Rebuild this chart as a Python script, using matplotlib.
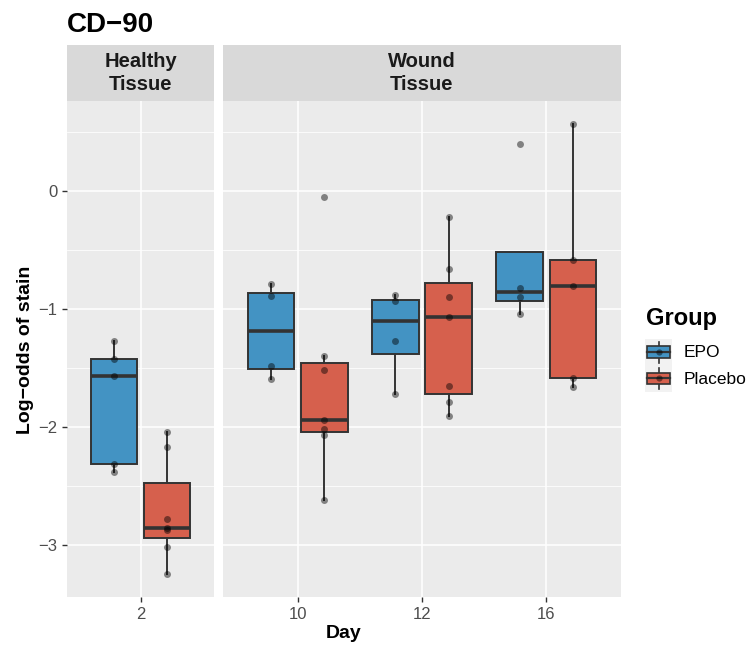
import numpy as np
import matplotlib.pyplot as plt
from matplotlib.patches import Rectangle

plt.rcParams['font.family'] = ['Liberation Sans', 'DejaVu Sans']

# data (log-odds of stain per animal)
groups = ["EPO", "Placebo"]
healthy_days = ["2"]
wound_days = ["10", "12", "16"]

epo_d2 = [-1.268, -1.424, -1.572, -2.312, -2.380]
plc_d2 = [-2.048, -2.170, -2.786, -2.862, -2.879, -3.018, -3.254]
epo_d10 = [-0.786, -0.891, -1.487, -1.591]
plc_d10 = [-0.045, -1.396, -1.518, -1.946, -2.020, -2.068, -2.621]
epo_d12 = [-0.880, -0.933, -1.274, -1.719]
plc_d12 = [-0.218, -0.661, -0.894, -1.067, -1.651, -1.787, -1.904]
epo_d16 = [0.400, -0.817, -0.896, -1.041]
plc_d16 = [0.576, -0.587, -0.800, -1.583, -1.662]

BLUE = '#4393C3'
RED = '#D6604D'
EDGE = '#333333'
OFF = 0.215
BOXW = 0.375

W, H = 751, 646
fig = plt.figure(figsize=(W / 100, H / 100), dpi=100)


def px_axes(x0, y0, x1, y1):
    return fig.add_axes([x0 / W, 1 - y1 / H, (x1 - x0) / W, (y1 - y0) / H])


all_vals = np.concatenate([epo_d2, plc_d2, epo_d10, plc_d10,
                           epo_d12, plc_d12, epo_d16, plc_d16])
lo, hi = all_vals.min(), all_vals.max()
pad = 0.05 * (hi - lo)


def draw_panel(ax, days, epo, plc):
    ax.set_facecolor('#EBEBEB')
    for i, (e, p) in enumerate(zip(epo, plc)):
        for vals, off, col in ((e, -OFF, BLUE), (p, OFF, RED)):
            pos = i + 1 + off
            ax.boxplot([vals], positions=[pos], widths=BOXW, patch_artist=True,
                       showfliers=False, manage_ticks=False,
                       boxprops=dict(facecolor=col, edgecolor=EDGE, linewidth=1.4),
                       whiskerprops=dict(color=EDGE, linewidth=1.4),
                       capprops=dict(linewidth=0),
                       medianprops=dict(color=EDGE, linewidth=2.6))
            ax.plot([pos] * len(vals), vals, 'o', color='black', alpha=0.45,
                    ms=5, mew=0, zorder=4)
    ax.set_xlim(0.4, len(days) + 0.6)
    ax.set_ylim(lo - pad, hi + pad)
    ax.set_xticks(range(1, len(days) + 1), days)
    ax.set_yticks([0, -1, -2, -3])
    ax.set_yticks([0.5, -0.5, -1.5, -2.5], minor=True)
    ax.grid(which='major', color='white', linewidth=1.1)
    ax.grid(which='minor', axis='y', color='white', linewidth=0.55)
    ax.set_axisbelow(True)
    for s in ax.spines.values():
        s.set_visible(False)
    ax.tick_params(which='major', colors=EDGE, labelcolor='#4D4D4D',
                   labelsize=12, length=3.5, width=1)
    ax.tick_params(which='minor', length=0)


ax1 = px_axes(67, 101, 214, 597)
ax2 = px_axes(223, 101, 621, 597)
draw_panel(ax1, healthy_days, [epo_d2], [plc_d2])
draw_panel(ax2, wound_days, [epo_d10, epo_d12, epo_d16], [plc_d10, plc_d12, plc_d16])
ax2.tick_params(axis='y', left=False, labelleft=False)

# facet strips
for (x0, x1), lab in (((67, 214), "Healthy\nTissue"), ((223, 621), "Wound\nTissue")):
    sax = px_axes(x0, 45, x1, 101)
    sax.set_facecolor('#D9D9D9')
    sax.set_xticks([])
    sax.set_yticks([])
    for s in sax.spines.values():
        s.set_visible(False)
    sax.text(0.5, 0.5, lab, ha='center', va='center', fontsize=14.5,
             fontweight='bold', color='#1A1A1A', linespacing=1.25,
             transform=sax.transAxes)

fig.text(67 / W, 1 - 31.7 / H, "CD\u221290", fontsize=20, fontweight='bold',
         ha='left', va='baseline')
fig.text(25 / W, 1 - 349.5 / H, "Log\u2212odds of stain", rotation=90,
         fontsize=14, fontweight='bold', ha='center', va='center')
fig.text(344 / W, 1 - 633 / H, "Day", fontsize=14, fontweight='bold',
         ha='center', va='center')

# legend
fig.text(646 / W, 1 - 325 / H, "Group", fontsize=17, fontweight='bold',
         ha='left', va='baseline')
kax = px_axes(645, 339, 672, 392)
kax.set_facecolor('#F2F2F2')
kax.set_xlim(0, 1)
kax.set_ylim(0, 2)
kax.set_xticks([])
kax.set_yticks([])
for s in kax.spines.values():
    s.set_visible(False)
for k, (name, col) in enumerate(zip(groups, (BLUE, RED))):
    base = 1 - k
    kax.plot([0.5, 0.5], [base + 0.1, base + 0.9], color=EDGE, lw=1.2)
    kax.add_patch(Rectangle((0.08, base + 0.3), 0.84, 0.42, facecolor=col,
                            edgecolor=EDGE, lw=1.2, zorder=3))
    kax.plot([0.08, 0.92], [base + 0.51, base + 0.51], color=EDGE, lw=1.6, zorder=4)
    kax.plot([0.5], [base + 0.51], 'o', color='black', alpha=0.45, ms=4.5,
             mew=0, zorder=5)
    fig.text(684 / W, 1 - (352.8 + 27 * k) / H, name, fontsize=12.5,
             ha='left', va='center')

fig.savefig("out.png", dpi=100)
